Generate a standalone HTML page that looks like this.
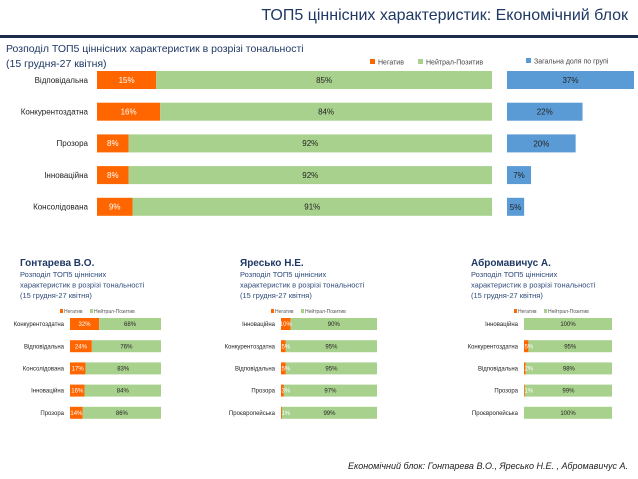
<!DOCTYPE html>
<html><head><meta charset="utf-8">
<style>
body{margin:0;width:638px;height:479px;background:#fff;font-family:"Liberation Sans","DejaVu Sans",sans-serif;overflow:hidden;position:relative}
.t{position:absolute;white-space:nowrap}
svg{position:absolute;left:0;top:0}
</style></head><body>
<div class="t" style="right:10px;top:7px;font-size:16px;color:#1f3864">ТОП5 ціннісних характеристик: Економічний блок</div>
<div style="position:absolute;left:0;top:35px;width:638px;height:3px;background:#1a2d4d"></div>
<div class="t" style="left:6px;top:42px;font-size:10.5px;line-height:15px;color:#1f3864">Розподіл ТОП5 ціннісних характеристик в розрізі тональності<br>(15 грудня-27 квітня)</div>
<div class="t" style="right:10px;top:461px;font-size:9px;font-style:italic;color:#222">Економічний блок: Гонтарева В.О., Яресько Н.Е. , Абромавичус А.</div>
<svg id="chart" width="638" height="479"></svg>
<script>
const mainCats=["Відповідальна","Конкурентоздатна","Прозора","Інноваційна","Консолідована"];
const mainNeg=[15,16,8,8,9];
const mainPos=[85,84,92,92,91];
const mainShare=[37,22,20,7,5];
const gCats=["Конкурентоздатна","Відповідальна","Консолідована","Інноваційна","Прозора"];
const gNeg=[32,24,17,16,14];
const gPos=[68,76,83,84,86];
const yCats=["Інноваційна","Конкурентоздатна","Відповідальна","Прозора","Проєвропейська"];
const yNeg=[10,5,5,3,1];
const yPos=[90,95,95,97,99];
const aCats=["Інноваційна","Конкурентоздатна","Відповідальна","Прозора","Проєвропейська"];
const aNeg=[0,5,2,1,0];
const aPos=[100,95,98,99,100];
const NS="http://www.w3.org/2000/svg";
const svg=document.getElementById('chart');
function mk(tag,attrs,name,text){const e=document.createElementNS(NS,tag);for(const k in attrs)e.setAttribute(k,attrs[k]);


if(text!==undefined)e.textContent=text;svg.appendChild(e);return e;}
const OR="#ff6600",GR="#a9d18e",BL="#5b9bd5";
function stacked(cats,neg,pos,x0,w,y0,step,h,fs,lx,pre){
  const sx=v=>v/100*w;
  cats.forEach((c,i)=>{
    const y=y0+i*step;
    mk('text',{x:lx,y:y+fs*0.35,'font-size':fs,'text-anchor':'end',fill:'#222'},pre+'category-label',c);
    mk('rect',{x:x0,y:y-h/2,width:sx(neg[i]),height:h,fill:OR},pre+'bar-negative');
    mk('rect',{x:x0+sx(neg[i]),y:y-h/2,width:sx(pos[i]),height:h,fill:GR},pre+'bar-positive');
    if(neg[i]>0)mk('text',{x:x0+Math.max(sx(neg[i])/2,fs*0.8),y:y+fs*0.35,'font-size':fs,'text-anchor':'middle',fill:'#fff'},pre+'value-negative',neg[i]+'%');
    mk('text',{x:x0+sx(neg[i])+sx(pos[i])/2,y:y+fs*0.35,'font-size':fs,'text-anchor':'middle',fill:'#222'},pre+'value-positive',pos[i]+'%');
  });
}
stacked(mainCats,mainNeg,mainPos,97,395,80,31.7,18,8,88,'main-');
// legend main
mk('rect',{x:370,y:59,width:5,height:5,fill:OR},'legend-negative-swatch');
mk('text',{x:378,y:64.5,'font-size':7,fill:'#444'},'legend-negative','Негатив');
mk('rect',{x:418,y:59,width:5,height:5,fill:GR},'legend-positive-swatch');
mk('text',{x:426,y:64.5,'font-size':7,fill:'#444'},'legend-positive','Нейтрал-Позитив');
mk('rect',{x:526,y:58,width:5,height:5,fill:BL},'legend-share-swatch');
mk('text',{x:534,y:63.5,'font-size':7,fill:'#444'},'legend-share','Загальна доля по групі');
const sShare=v=>v/37*127;
mainShare.forEach((v,i)=>{const y=80+i*31.7;
  mk('rect',{x:507,y:y-9,width:sShare(v),height:18,fill:BL},'bar-share');
  mk('text',{x:507+Math.max(sShare(v)/2,8),y:y+3,'font-size':8,'text-anchor':'middle',fill:'#222'},'value-share',v+'%');
});
function panel(x,name,cats,neg,pos,bx,bw,lx,pre){
  mk('text',{x:x,y:266,'font-size':10,'font-weight':'bold',fill:'#1f3864'},pre+'heading',name);
  ['Розподіл ТОП5 ціннісних','характеристик в розрізі тональності','(15 грудня-27 квітня)'].forEach((s,i)=>
    mk('text',{x:x,y:277+i*10.5,'font-size':7.5,fill:'#2e4a7a'},pre+'subtitle',s));
  mk('rect',{x:bx-10,y:309,width:3,height:4,fill:OR},pre+'legend-negative-swatch');
  mk('text',{x:bx-6,y:313,'font-size':5,fill:'#555'},pre+'legend-negative','Негатив');
  mk('rect',{x:bx+20,y:309,width:3,height:4,fill:GR},pre+'legend-positive-swatch');
  mk('text',{x:bx+24,y:313,'font-size':5,fill:'#555'},pre+'legend-positive','Нейтрал-Позитив');
  stacked(cats,neg,pos,bx,bw,y0=324,22.2,12,6,lx,pre);
}
panel(20,'Гонтарева В.О.',gCats,gNeg,gPos,70,91,64,'gontareva-');
panel(240,'Яресько Н.Е.',yCats,yNeg,yPos,281,96,275,'yaresko-');
panel(471,'Абромавичус А.',aCats,aNeg,aPos,524,88,518,'abromavichus-');
</script>
</body></html>
